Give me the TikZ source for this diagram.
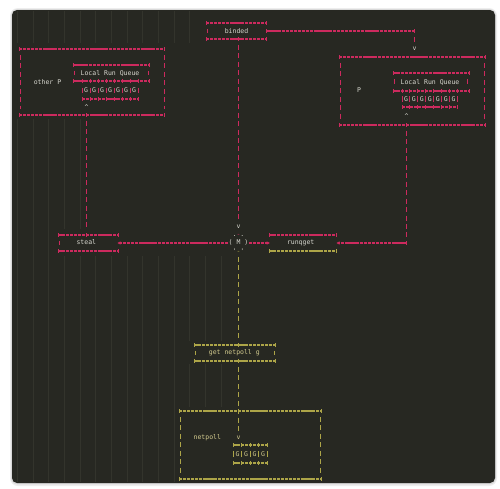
\documentclass[tikz,border=0pt]{standalone}
\usepackage{fontspec}
\newfontfamily\codefont{DejaVu Sans Mono}
\usetikzlibrary{arrows.meta}
\definecolor{bgc}{HTML}{272822}
\definecolor{redc}{HTML}{CC2A5E}
\definecolor{yelc}{HTML}{ADA548}
\definecolor{txtc}{HTML}{D6D6CE}
\definecolor{ytxt}{HTML}{D2CA8E}
\definecolor{guidec}{HTML}{33342C}
% geometry rows snapped to odd pixel lines, text rows unsnapped
\pgfmathdeclarefunction{row}{1}{\pgfmathparse{2*round((21.7+8.456*#1)/2)+1}}
\pgfmathdeclarefunction{trow}{1}{\pgfmathparse{22.7+8.456*#1+2.4}}
\tikzset{
  hln/.style={line width=1.5pt,dash pattern=on 3.2pt off 0.72pt},
  vln/.style={line width=1.2pt,dash pattern=on 5pt off 3.456pt},
  trimtwo/.style={shorten <=5.956pt,shorten >=5.956pt},
  trimone/.style={shorten <=5.956pt},
  crs/.pic={\draw[solid,line width=1pt] (0,-1.8) -- (0,1.8);},
  lbl/.style={font=\codefont\fontsize{6.5}{7}\selectfont,text=txtc,inner sep=0pt,anchor=base},
  ylbl/.style={lbl,text=ytxt},
  tipl/.style={-{Stealth[length=3.2pt,width=3.4pt]}},
  guide/.style={guidec,line width=0.6pt},
}
% tick at (x,row)
\newcommand\tk[3]{\pic[#1] at (#2,{row(#3)}) {crs};}
% horizontal edge
\newcommand\hl[4]{\draw[#1,hln] (#2,{row(#4)}) -- (#3,{row(#4)});}
% vertical edge between two rows
\newcommand\vs[4]{\draw[#1,vln,trimtwo] (#2,{row(#3)}) -- (#2,{row(#4)});}
% row of ticks
\newcommand\tkrow[5]{\foreach \i in {0,...,#4} {\pic[#1] at ({floor(#2+#3*\i)+0.5},{row(#5)}) {crs};}}
% G cells row
\newcommand\grow[6]{%
  \foreach \i in {0,...,#5} {\draw[#1,line width=1.1pt] ({floor(#3+#4*\i)+0.5},{trow(#6)-5}) -- ({floor(#3+#4*\i)+0.5},{trow(#6)+0.3});}
  \foreach \i in {1,...,#5} {\node[#2] (g#6x\i) at ({#3+#4*(\i-0.5)},{trow(#6)}) {G};}}
\begin{document}
\begin{tikzpicture}[x=1pt,y=-1pt]
\useasboundingbox (0,0) rectangle (500,488);
\fill[white] (0,0) rectangle (500,488);
\fill[black!7, rounded corners=8pt] (10,8) rectangle (497,486);
\fill[black!15, rounded corners=6pt] (11.2,9.2) rectangle (495.8,484.3);
\fill[bgc, rounded corners=5pt] (12,10) rectangle (495,483);

% indent guides
\foreach \k in {0,...,11} \draw[guide] ({floor(17.3+15.7*\k)+0.5},11) -- ({floor(17.3+15.7*\k)+0.5},43);
\foreach \k in {0,...,2} \draw[guide] ({floor(17.3+15.7*\k)+0.5},119) -- ({floor(17.3+15.7*\k)+0.5},482);
\foreach \k in {3,4} \draw[guide] ({floor(17.3+15.7*\k)+0.5},119) -- ({floor(17.3+15.7*\k)+0.5},229);
\foreach \k in {3,...,10} \draw[guide] ({floor(17.3+15.7*\k)+0.5},256) -- ({floor(17.3+15.7*\k)+0.5},482);
\foreach \k in {11,12,13} {\draw[guide] ({floor(17.3+15.7*\k)+0.5},256) -- ({floor(17.3+15.7*\k)+0.5},341);
  \draw[guide] ({floor(17.3+15.7*\k)+0.5},364) -- ({floor(17.3+15.7*\k)+0.5},407);}

% ---------------- binded ----------------
\hl{redc}{206}{267}{0} \tk{redc}{206.5}{0} \tk{redc}{266.5}{0}
\vs{redc}{207.5}{0}{2}
\hl{redc}{206}{267}{2} \tk{redc}{206.5}{2} \tk{redc}{238.5}{2} \tk{redc}{266.5}{2}
\node[lbl] (binded) at (236.5,{trow(1)}) {binded};
\coordinate (bindedE) at (266.5,{row(1)});
\coordinate (bindedS) at (238.5,{row(2)});

% ---------------- other P ----------------
\hl{redc}{19}{165}{3} \hl{redc}{19}{165}{11}
\vs{redc}{20.5}{3}{11} \vs{redc}{164.5}{3}{11}
\tk{redc}{19.5}{3} \tk{redc}{164.5}{3} \tk{redc}{19.5}{11} \tk{redc}{86.5}{11} \tk{redc}{164.5}{11}
\node[lbl] (otherP) at (47.5,{trow(7)}) {other P};
\hl{redc}{73.5}{149.8}{5} \hl{redc}{73.5}{149.8}{7}
\vs{redc}{74.5}{5}{7} \vs{redc}{148.5}{5}{7}
\tk{redc}{73.5}{5} \tk{redc}{149.5}{5} \tk{redc}{73.5}{7} \tk{redc}{149.5}{7}
\tkrow{redc}{82}{8.0}{7}{7}
\node[lbl] (lrqA) at (110,{trow(6)}) {Local Run Queue};
\grow{redc}{lbl}{82}{8.0}{7}{8}
\hl{redc}{82}{138.5}{9} \tkrow{redc}{82}{8.0}{7}{9}
\node[lbl] (upA) at (86.5,{trow(10)}) {\textasciicircum};
\coordinate (otherPS) at (86.5,{row(11)});

% ---------------- P ----------------
\hl{redc}{339}{485.7}{4} \hl{redc}{339}{485.7}{12}
\vs{redc}{340.5}{4}{12} \vs{redc}{484.5}{4}{12}
\tk{redc}{339.5}{4} \tk{redc}{485.5}{4} \tk{redc}{339.5}{12} \tk{redc}{406.5}{12} \tk{redc}{485.5}{12}
\node[lbl] (P) at (359,{trow(8)}) {P};
\hl{redc}{393.3}{469.5}{6} \hl{redc}{393.3}{469.5}{8}
\vs{redc}{394.5}{6}{8} \vs{redc}{467.5}{6}{8}
\tk{redc}{393.5}{6} \tk{redc}{469.5}{6} \tk{redc}{393.5}{8} \tk{redc}{469.5}{8}
\tkrow{redc}{402}{7.95}{7}{8}
\node[lbl] (lrqB) at (430,{trow(7)}) {Local Run Queue};
\grow{redc}{lbl}{402}{7.95}{7}{9}
\hl{redc}{402}{458}{10} \tkrow{redc}{402}{7.95}{7}{10}
\node[lbl] (upB) at (406.5,{trow(11)}) {\textasciicircum};
\coordinate (PS) at (406.5,{row(12)});
\coordinate (Pturn) at (406.5,{row(26)});

% binded -> P
\coordinate (bturn) at (414.5,{row(1)});
\coordinate (bdown) at (414.5,{row(3)});
\draw[redc,hln] (bindedE) -- (bturn);
\draw[redc,vln,trimtwo] (bturn) -- (bdown);
\tk{redc}{266.5}{1} \tk{redc}{414.5}{1}
\node[lbl] (vP) at (414.5,{trow(3)}) {v};

% ---------------- M ----------------
\coordinate (Mtop) at (238.5,{row(24)});
\node[lbl] (vM) at (238.5,{trow(24)}) {v};
\node[lbl] (M) at (238.5,{trow(26)}) {( M )};
\node[lbl] (Mup) at (238.5,{trow(25)}) {.\textcolor{redc}{-}.};
\node[lbl] (Mdn) at (238.5,{trow(27)}) {\textquotesingle\textcolor{yelc}{-}\textquotesingle};
\coordinate (Mbot) at (238.5,{row(27)});
\draw[redc,vln,trimtwo] (bindedS) -- (Mtop);

% ---------------- steal ----------------
\hl{redc}{58.3}{118.3}{25} \hl{redc}{58.3}{118.3}{27}
\tk{redc}{58.5}{25} \tk{redc}{86.5}{25} \tk{redc}{118.5}{25} \tk{redc}{58.5}{27} \tk{redc}{118.5}{27}
\vs{redc}{59.5}{25}{27}
\node[lbl] (steal) at (86.3,{trow(26)}) {steal};
\coordinate (stealN) at (86.5,{row(25)});
\coordinate (stealE) at (117.5,{row(26)});
\draw[redc,vln,trimtwo] (otherPS) -- (stealN);

% ---------------- runqget ----------------
\hl{redc}{269.3}{336.7}{25} \tk{redc}{269.5}{25} \tk{redc}{336.5}{25}
\hl{yelc}{269.3}{336.7}{27} \tk{yelc}{269.5}{27} \tk{yelc}{336.5}{27}
\node[lbl] (runqget) at (300.7,{trow(26)}) {runqget};
\coordinate (runqW) at (269.8,{row(26)});
\coordinate (runqE) at (336.5,{row(26)});

% connectors on the M row
\draw[redc,hln,tipl] ([xshift=-0.5pt]M.west |- stealE) -- (stealE);
\draw[redc,hln,tipl] ([xshift=0.5pt]M.east |- runqW) -- (runqW);
\draw[redc,vln,trimone,shorten >=5.956pt] (PS) -- (Pturn);
\draw[redc,hln,tipl] (Pturn) -- (runqE);
\tk{redc}{406.5}{26}

% ---------------- get netpoll g ----------------
\coordinate (gnpN) at (238.5,{row(38)});
\coordinate (gnpS) at (238.5,{row(40)});
\hl{yelc}{194.3}{275.3}{38} \hl{yelc}{194.3}{275.3}{40}
\tk{yelc}{194.5}{38} \tk{yelc}{238.5}{38} \tk{yelc}{275.5}{38}
\tk{yelc}{194.5}{40} \tk{yelc}{238.5}{40} \tk{yelc}{275.5}{40}
\vs{yelc}{195.5}{38}{40} \vs{yelc}{274.5}{38}{40}
\node[ylbl] (gnp) at (234.3,{trow(39)}) {get netpoll g};
\draw[yelc,vln,trimtwo] (Mbot) -- (gnpN);

% ---------------- netpoll ----------------
\hl{yelc}{179}{321.7}{46} \hl{yelc}{179}{321.7}{54}
\tk{yelc}{179.5}{46} \tk{yelc}{238.5}{46} \tk{yelc}{321.5}{46}
\tk{yelc}{179.5}{54} \tk{yelc}{321.5}{54}
\vs{yelc}{180.5}{46}{54} \vs{yelc}{320.5}{46}{54}
\node[ylbl] (netpoll) at (207.3,{trow(49)}) {netpoll};
\coordinate (npv) at (238.5,{row(49)});
\node[ylbl] (vN) at (238.5,{trow(49)}) {v};
\draw[yelc,vln,trimtwo] (gnpS) -- (npv);
\hl{yelc}{233.3}{267.3}{50} \tkrow{yelc}{233.3}{8.5}{4}{50}
\grow{yelc}{ylbl}{233.3}{8.5}{4}{51}
\hl{yelc}{233.3}{267.3}{52} \tkrow{yelc}{233.3}{8.5}{4}{52}
\end{tikzpicture}
\end{document}
